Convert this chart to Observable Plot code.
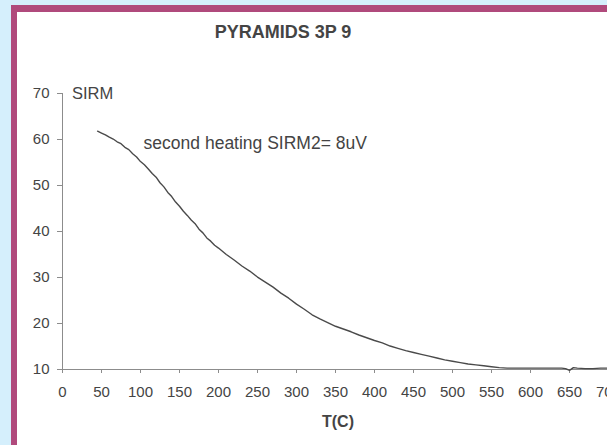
<!DOCTYPE html>
<html><head><meta charset="utf-8">
<script src="https://cdn.jsdelivr.net/npm/d3@7"></script>
<script src="https://cdn.jsdelivr.net/npm/@observablehq/plot@0.6"></script>
<style>
html,body{margin:0;padding:0;width:607px;height:445px;overflow:hidden;background:#d5effc;font-family:"Liberation Sans",Arial,sans-serif;}
#frame{position:absolute;left:11px;top:5px;width:700px;height:500px;border-left:6px solid #b04a7c;border-top:7px solid #b04a7c;background:#fff;overflow:hidden}
#chart{position:absolute;left:0;top:0}
.lbl{position:absolute;color:#444;white-space:nowrap}
#title{left:0;width:532px;top:11px;text-align:center;font-weight:bold;font-size:18px;line-height:18px}
#ylab{left:55px;top:73px;font-size:16.5px;line-height:16px}
#xlab{left:221px;width:200px;top:402px;text-align:center;font-weight:bold;font-size:16px;line-height:16px}
</style></head>
<body>
<div id="frame">
  <div id="chart"></div>
  <div id="title" class="lbl">PYRAMIDS 3P 9</div>
  <div id="ylab" class="lbl">SIRM</div>
  <div id="xlab" class="lbl">T(C)</div>
</div>
<script>
const tempC = [45,50,55,60,65,70,75,80,85,90,95,100,105,110,115,120,125,130,135,140,145,150,155,160,165,170,175,180,185,190,195,200,210,220,230,240,250,260,270,280,290,300,310,320,330,340,350,360,370,380,390,400,410,420,430,440,450,460,470,480,490,500,510,520,530,540,550,560,570,580,590,600,610,620,630,640,645,650,655,660,670,680,690,700];
const sirm = [61.8,61.4,61.0,60.5,60.1,59.5,59.1,58.3,57.8,56.9,56.2,55.2,54.5,53.6,52.6,51.8,50.6,49.7,48.5,47.6,46.4,45.5,44.4,43.5,42.5,41.7,40.5,39.7,38.6,37.9,37.0,36.4,35.0,33.8,32.5,31.4,30.1,29.0,27.9,26.6,25.5,24.2,23.1,21.9,21.0,20.2,19.4,18.8,18.2,17.5,16.9,16.3,15.8,15.1,14.6,14.1,13.7,13.3,12.9,12.5,12.1,11.8,11.5,11.2,11.0,10.8,10.6,10.4,10.3,10.3,10.3,10.3,10.3,10.3,10.3,10.3,10.2,9.8,10.4,10.3,10.2,10.2,10.3,10.3];
const xTicks = [0,50,100,150,200,250,300,350,400,450,500,550,600,650,700];
const yTicks = [10,20,30,40,50,60,70];
const noteText = ["second heating SIRM2= 8uV"];
const noteT = [104];
const noteV = [59.1];

const data = tempC.map((t, i) => ({t, v: sirm[i]}));
const notes = noteText.map((s, i) => ({s, t: noteT[i], v: noteV[i]}));

const axisGray = "#8c8c8c";
const chart = Plot.plot({
  width: 700,
  height: 437,
  marginLeft: 45,
  marginRight: 109,
  marginTop: 81,
  marginBottom: 80,
  style: {background: "transparent", fontFamily: "'Liberation Sans', Arial, sans-serif", fontSize: "15px", color: "#444"},
  x: {domain: [0, 700], axis: null},
  y: {domain: [10, 70], axis: null},
  marks: [
    Plot.axisX(xTicks, {tickSize: 4, tickPadding: 13, stroke: axisGray, fill: "#444", label: null}),
    Plot.axisY(yTicks, {tickSize: 5, tickPadding: 8, stroke: axisGray, fill: "#444", label: null}),
    Plot.ruleY([yTicks[0]], {stroke: axisGray}),
    Plot.ruleX([xTicks[0]], {stroke: axisGray}),
    Plot.line(data, {x: "t", y: "v", stroke: "#4a4a4a", strokeWidth: 1.4}),
    Plot.text(notes, {x: "t", y: "v", text: "s", textAnchor: "start", fontSize: 17.5, fill: "#444"})
  ]
});
document.getElementById("chart").appendChild(chart);
</script>
</body></html>
